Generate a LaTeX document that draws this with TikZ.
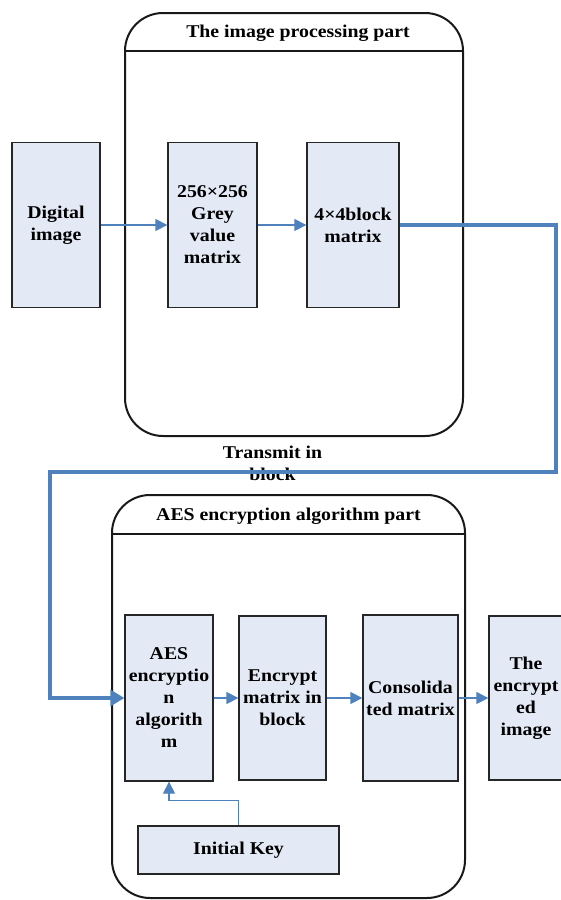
\documentclass[tikz,border=0pt]{standalone}
\usepackage{fontspec}
\setmainfont{Liberation Serif}[FakeStretch=1.1]
\usetikzlibrary{positioning}
\usetikzlibrary{arrows.meta}
\definecolor{boxfill}{RGB}{228,234,245}
\definecolor{arrowblue}{RGB}{79,129,189}
\tikzset{
    mybox/.style = {rectangle, draw=black!85, line width=1.3pt, fill=boxfill, align=center, inner sep=1pt, font=\bfseries\fontsize{18}{22}\selectfont},
    mypart/.style = {rectangle, draw=black!90, line width=2pt, rounded corners=38pt},
    partline/.style = {draw=black!90, line width=2pt},
    mytitle/.style = {align=center, inner sep=0pt, font=\bfseries\fontsize{18}{22}\selectfont},
    edgeb/.style = {-{Triangle[length=12pt,width=12pt]}, line width=1.3pt, draw=arrowblue}, % thin
    edgebb/.style = {-{Triangle[length=14pt,width=16pt]}, line width=3.2pt, draw=arrowblue}, % transmit
}

\begin{document}
\begin{tikzpicture}[x=1pt,y=-1pt]
\clip (0,0) rectangle (561,900);
% the two parts
\node[mypart, minimum width=338pt, minimum height=423pt] (imgpart) at (294,224.5) {};
\draw[partline] ([yshift=-39pt]imgpart.north west) -- ([yshift=-39pt]imgpart.north east);
\node[mytitle] (imgtitle) at (298,33) {The image processing part};
\node[mypart, minimum width=353pt, minimum height=403pt] (aespart) at (288.5,696.5) {};
\draw[partline] ([yshift=-40pt]aespart.north west) -- ([yshift=-40pt]aespart.north east);
\node[mytitle] (aestitle) at (288.5,516) {AES encryption algorithm part};
% upper row
\node[mybox, minimum width=88pt, minimum height=165pt] (dimg) at (56,225) {Digital\\image};
\node[mybox, minimum width=89pt, minimum height=165pt] (grey) at (212.5,225) {256×256\\Grey\\value\\matrix};
\node[mybox, minimum width=92pt, minimum height=165pt] (blk) at (353,225) {4×4block\\matrix};
% lower row
\node[mybox, minimum width=88pt, minimum height=166pt] (aes) at (169,698) {AES\\encryptio\\n\\algorith\\m};
\node[mybox, minimum width=87pt, minimum height=164pt] (enc) at (282.5,698) {Encrypt\\matrix in\\block};
\node[mybox, minimum width=95pt, minimum height=166pt] (cons) at (410.5,698) {Consolida\\ted matrix};
\node[mybox, minimum width=74pt, minimum height=164pt] (encimg) at (526,698) {The\\encrypt\\ed\\image};
\node[mybox, minimum width=201pt, minimum height=48pt] (key) at (238.5,850) {Initial Key};
% transmit
\node[mytitle] (trans) at (272.5,463) {Transmit in\\block};
\coordinate (tr) at (556,472);
\coordinate (tl) at (50,472);
\draw[edgeb] (dimg.east) -- (grey.west);
\draw[edgeb] (grey.east) -- (blk.west);
\draw[edgebb] (blk.east) -| (tr) -- (tl) |- (aes.west);
\draw[edgeb] (aes.east) -- (enc.west);
\draw[edgeb] (enc.east) -- (cons.west);
\draw[edgeb] (cons.east) -- (encimg.west);
\draw[edgeb] (key.north) -- ++(0,-25) -| (aes.south);
\end{tikzpicture}
\end{document}
